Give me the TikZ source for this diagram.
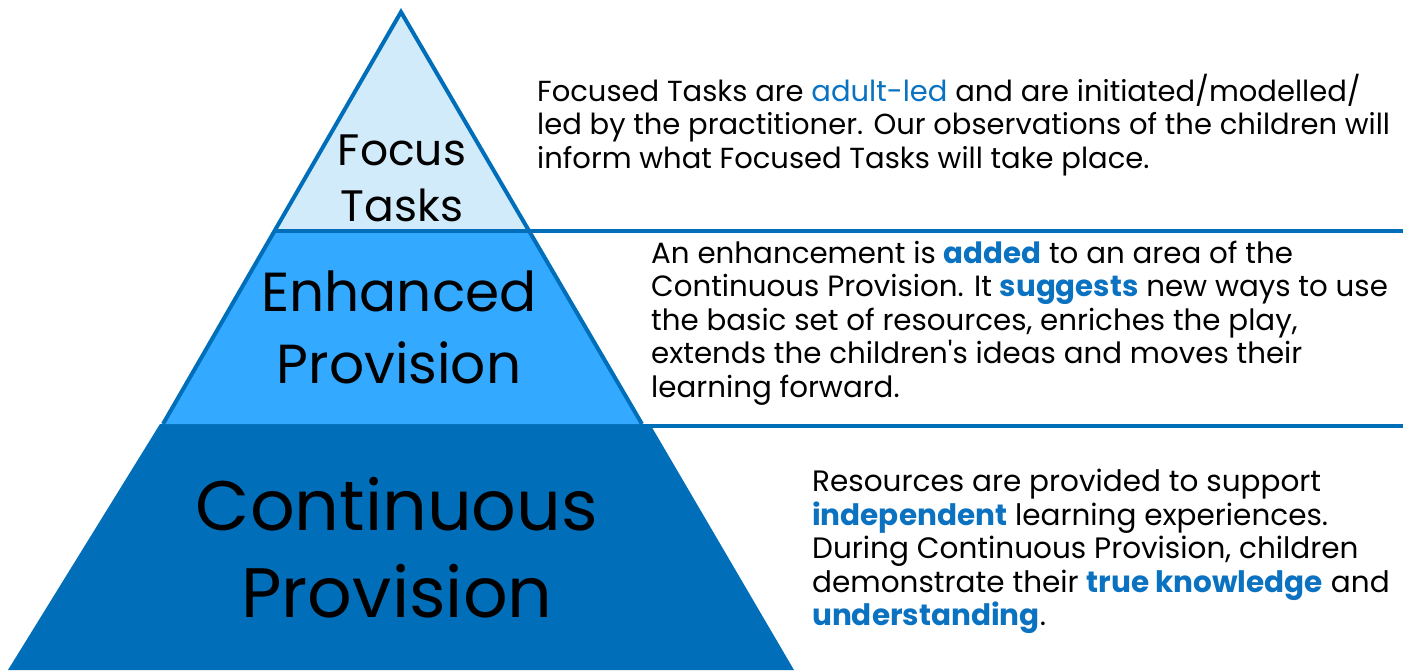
\documentclass[tikz,border=0pt]{standalone}
\usepackage{fontspec}
\setmainfont{Poppins}[Ligatures=TeXOff]
\definecolor{dkblue}{HTML}{006EB9}
\definecolor{mdblue}{HTML}{33AAFF}
\definecolor{ltblue}{HTML}{D1EBFB}
\definecolor{txblue}{HTML}{0A72C0}
\newcommand{\hl}[1]{\textcolor{txblue}{#1}}
\newcommand{\hb}[1]{\textcolor{txblue}{\bfseries #1}}
\begin{document}
\begin{tikzpicture}[x=1pt,y=-1pt,
  body/.style={anchor=base west, inner sep=0pt},
  bodyA/.style={body, font=\fontsize{29}{33}\selectfont},
  bodyB/.style={body, font=\fontsize{29.3}{33}\selectfont},
  bodyC/.style={body, font=\fontsize{29.5}{33}\selectfont},
  head/.style={anchor=base, inner sep=0pt},
  edge/.style={draw=dkblue, line width=4pt}]
\useasboundingbox (0,0) rectangle (1403,670);
% key points
\coordinate (apex) at (401,12);
\coordinate (L1) at (273,231);
\coordinate (R1) at (530,231);
\coordinate (L2) at (163,424);
\coordinate (R2) at (642,424);
\coordinate (L3) at (160,424);
\coordinate (R3) at (650,424);
\coordinate (L4) at (8,670);
\coordinate (R4) at (794,670);
\coordinate (E1) at (1403,231);
\coordinate (E2) at (1403,425.5);
\coordinate (R2b) at (644,425.5);
% fills
\fill[dkblue] (L3) -- (R3) -- (R4) -- (L4) -- cycle;
\fill[mdblue] (L1) -- (R1) -- (R2) -- (L2) -- cycle;
\fill[ltblue] (apex) -- (R1) -- (L1) -- cycle;
% outlines
\draw[edge, line join=miter] (L2) -- (apex) -- (R2);
\draw[edge] (L1) -- (E1);
\draw[edge] (R2b) -- (E2);
% headings
\node[head, font=\fontsize{44}{50}\selectfont] (f1) at (402,165) {Focus};
\node[head, font=\fontsize{44}{50}\selectfont] (f2) at (402,221.7) {Tasks};
\node[head, font=\fontsize{55}{65}\selectfont] (e1) at (399,311.7) {Enhanced};
\node[head, font=\fontsize{55}{65}\selectfont] (e2) at (399,383) {Provision};
\node[head, font=\fontsize{70}{80}\selectfont] (c1) at (397,530) {Continuous};
\node[head, font=\fontsize{70}{80}\selectfont] (c2) at (397,617) {Provision};
% block 1
\node[bodyA] (a1) at (537,101.5) {Focused Tasks are \hl{adult-led} and are initiated/modelled/};
\node[bodyA] (a2) at (537,134.8) {led by the practitioner. Our observations of the children will};
\node[bodyA] (a3) at (537,168.1) {inform what Focused Tasks will take place.};
% block 2
\node[bodyB] (b1) at (651,263.5) {An enhancement is \hb{added} to an area of the};
\node[bodyB] (b2) at (651,296.9) {Continuous Provision. It \hb{suggests} new ways to use};
\node[bodyB] (b3) at (651,330.3) {the basic set of resources, enriches the play,};
\node[bodyB] (b4) at (651,363.7) {extends the children's ideas and moves their};
\node[bodyB] (b5) at (651,397.1) {learning forward.};
% block 3
\node[bodyC] (c31) at (812,491.7) {Resources are provided to support};
\node[bodyC] (c32) at (812,525.2) {\hb{independent} learning experiences.};
\node[bodyC] (c33) at (812,558.7) {During Continuous Provision, children};
\node[bodyC] (c34) at (812,592.2) {demonstrate their \hb{true knowledge} and};
\node[bodyC] (c35) at (812,625.7) {\hb{understanding}.};
\end{tikzpicture}
\end{document}
